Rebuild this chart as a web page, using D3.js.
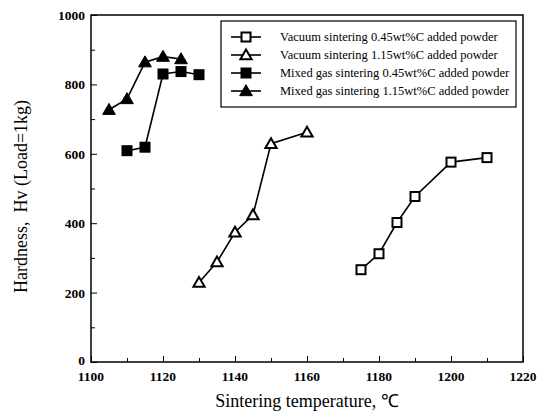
<!DOCTYPE html>
<html>
<head>
<meta charset="utf-8">
<script src="https://cdn.jsdelivr.net/npm/d3@7"></script>
<style>
  body { margin: 0; background: #fff; }
  svg text { font-family: "Liberation Serif", "Times New Roman", serif; fill: #000; }
</style>
</head>
<body>
<div id="chart"></div>
<script>
// values
const vac045Temp = [1175, 1180, 1185, 1190, 1200, 1210];
const vac045Hv   = [266, 312, 402, 477, 576, 589];
const vac115Temp = [1130, 1135, 1140, 1145, 1150, 1160];
const vac115Hv   = [229, 288, 374, 424, 629, 662];
const mix045Temp = [1110, 1115, 1120, 1125, 1130];
const mix045Hv   = [609, 619, 830, 837, 828];
const mix115Temp = [1105, 1110, 1115, 1120, 1125];
const mix115Hv   = [727, 758, 864, 880, 873];

const seriesNames = [
    "Vacuum sintering 0.45wt%C added powder",
    "Vacuum sintering 1.15wt%C added powder",
    "Mixed gas sintering 0.45wt%C added powder",
    "Mixed gas sintering 1.15wt%C added powder"
];
const xTicks = [1100, 1120, 1140, 1160, 1180, 1200, 1220];
const yTicks = [0, 200, 400, 600, 800, 1000];

const series = [
    { name: seriesNames[0], temp: vac045Temp, hv: vac045Hv, shape: "square", filled: false },
    { name: seriesNames[1], temp: vac115Temp, hv: vac115Hv, shape: "triangle", filled: false },
    { name: seriesNames[2], temp: mix045Temp, hv: mix045Hv, shape: "square", filled: true },
    { name: seriesNames[3], temp: mix115Temp, hv: mix115Hv, shape: "triangle", filled: true }
];

const width = 543, height = 416;
const margin = { left: 91, right: 20, top: 15, bottom: 54 };

const svg = d3.select("#chart").append("svg")
    .attr("width", width)
    .attr("height", height);

const x = d3.scaleLinear().domain([1100, 1220]).range([margin.left, width - margin.right]);
const y = d3.scaleLinear().domain([0, 1000]).range([height - margin.bottom, margin.top]);

// frame
svg.append("rect")
    .attr("x", x(1100)).attr("y", y(1000))
    .attr("width", x(1220) - x(1100)).attr("height", y(0) - y(1000))
    .attr("fill", "none").attr("stroke", "#000").attr("stroke-width", 1.5);

// inward ticks
const xAxis = svg.append("g").attr("transform", `translate(0,${y(0)})`)
    .call(d3.axisBottom(x).tickValues(d3.range(1100, 1221, 10)).tickSize(-6).tickFormat(""));
xAxis.selectAll(".tick line").attr("y2", d => d % 20 === 0 ? -6 : -4);
xAxis.select(".domain").remove();
svg.append("g").selectAll("text").data(xTicks).enter().append("text")
    .attr("x", d => x(d)).attr("y", y(0) + 19)
    .attr("text-anchor", "middle")
    .style("font-size", "13.5px").style("font-weight", "bold")
    .text(d => d);

const yAxis = svg.append("g").attr("transform", `translate(${x(1100)},0)`)
    .call(d3.axisLeft(y).tickValues(d3.range(0, 1001, 100)).tickSize(-6).tickFormat(""));
yAxis.selectAll(".tick line").attr("x2", d => d % 200 === 0 ? 6 : 4);
yAxis.select(".domain").remove();
svg.append("g").selectAll("text").data(yTicks).enter().append("text")
    .attr("x", x(1100) - 6).attr("y", d => y(d) + (d === 0 ? 3 : 5))
    .attr("text-anchor", "end")
    .style("font-size", "13.5px").style("font-weight", "bold")
    .text(d => d);

// axis titles
svg.append("text")
    .attr("x", (x(1100) + x(1220)) / 2).attr("y", 407)
    .attr("text-anchor", "middle")
    .style("font-size", "18px")
    .text("Sintering temperature, \u2103");

svg.append("text")
    .attr("transform", `translate(27,${(y(0) + y(1000)) / 2 + 8}) rotate(-90)`)
    .attr("text-anchor", "middle")
    .style("font-size", "18px")
    .text("Hardness,\u00a0\u00a0Hv (Load=1kg)");

const line = d3.line().x(d => x(d[0])).y(d => y(d[1]));

function drawMarker(g, s, cx, cy) {
    if (s.shape === "square") {
        g.append("rect")
            .attr("x", cx - 4.5).attr("y", cy - 4.5)
            .attr("width", 9).attr("height", 9)
            .attr("fill", s.filled ? "#000" : "#fff")
            .attr("stroke", "#000").attr("stroke-width", 2);
    } else {
        const sym = d3.symbol().type(d3.symbolTriangle).size(s.filled ? 70 : 55);
        g.append("path")
            .attr("d", sym())
            .attr("transform", `translate(${cx},${cy + 1})`)
            .attr("fill", s.filled ? "#000" : "#fff")
            .attr("stroke", "#000").attr("stroke-width", s.filled ? 1 : 2);
    }
}

series.forEach(s => {
    const pts = s.temp.map((t, i) => [t, s.hv[i]]);
    svg.append("path")
        .attr("d", line(pts))
        .attr("fill", "none").attr("stroke", "#000").attr("stroke-width", 1.6);
    const g = svg.append("g");
    pts.forEach(p => drawMarker(g, s, x(p[0]), y(p[1])));
});

// legend
const legend = svg.append("g");
legend.append("rect")
    .attr("x", 221).attr("y", 21)
    .attr("width", 295).attr("height", 86)
    .attr("fill", "#fff").attr("stroke", "#000").attr("stroke-width", 1.2);

series.forEach((s, i) => {
    const ly = 37 + i * 18;
    legend.append("line")
        .attr("x1", 231).attr("x2", 261).attr("y1", ly).attr("y2", ly)
        .attr("stroke", "#000").attr("stroke-width", 1.6);
    drawMarker(legend, s, 246, ly);
    legend.append("text")
        .attr("x", 280).attr("y", ly + 4)
        .style("font-size", "12.5px")
        .text(s.name);
});
</script>
</body>
</html>
